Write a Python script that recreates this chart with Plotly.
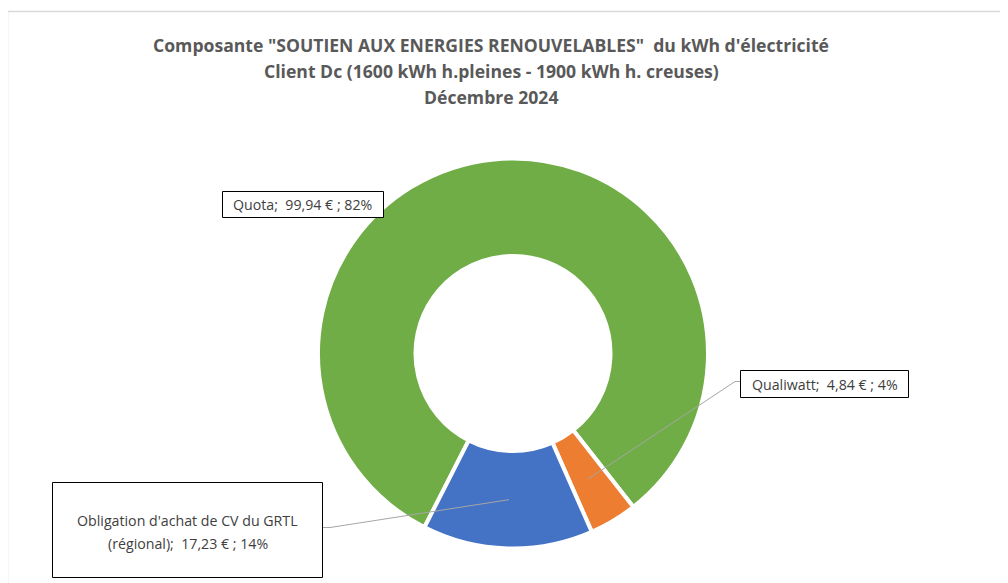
import math
import plotly.graph_objects as go

# ---- data ----
labels = ["Quota", "Qualiwatt", "Obligation d'achat de CV du GRTL (régional)"]
values = [99.94, 4.84, 17.23]
value_text = ["99,94 €", "4,84 €", "17,23 €"]
pct_text = ["82%", "4%", "14%"]
colors = ["#70AD47", "#ED7D31", "#4472C4"]
title_lines = [
    'Composante "SOUTIEN AUX ENERGIES RENOUVELABLES"  du kWh d\'électricité',
    "Client Dc (1600 kWh h.pleines - 1900 kWh h. creuses)",
    "Décembre 2024",
]

W, H = 1008, 583
OX, OY = 8, 8          # page body margin
CX, CY, R = 513, 353.5, 195
HOLE = 0.5
ROT = 207
FONT = "Open Sans, Lato, sans-serif"


def px(x, y):
    return (x - OX) / W, 1 - (y - OY) / H


fig = go.Figure()
dx0, _ = px(CX - R, 0)
dx1, _ = px(CX + R, 0)
_, dy1 = px(0, CY - R)
_, dy0 = px(0, CY + R)
fig.add_trace(go.Pie(
    labels=labels, values=values, sort=False, direction="clockwise",
    rotation=ROT, hole=HOLE, textinfo="none", hoverinfo="label+value+percent",
    marker=dict(colors=colors, line=dict(color="white", width=4)),
    domain=dict(x=[dx0, dx1], y=[dy0, dy1]),
    showlegend=False,
))

# slice midpoints (from data)
total = sum(values)
mids = []
cum = 0
for v in values:
    ang = math.radians(ROT + 360 * (cum + v / 2) / total)
    rm = R * (1 + HOLE) / 2
    mids.append((CX + rm * math.sin(ang), CY - rm * math.cos(ang)))
    cum += v

font_lbl = dict(family=FONT, size=14.2, color="#404040")

shapes = []
annotations = []

# leader lines
leaders = [
    None,
    [(735, 381.5), (740, 381.5)],
    [(330, 527.5), (322, 527.5)],
]
for i, ld in enumerate(leaders):
    if ld is None:
        continue
    pts = [mids[i]] + ld
    for (xa, ya), (xb, yb) in zip(pts[:-1], pts[1:]):
        x0, y0 = px(xa, ya)
        x1, y1 = px(xb, yb)
        shapes.append(dict(type="line", xref="paper", yref="paper", x0=x0, y0=y0, x1=x1, y1=y1,
                           line=dict(color="#A6A6A6", width=1)))

# chart border (light gray)
bx0, by0 = px(7.5, 11.5)
bx1, by1 = px(1040, 610)
shapes.append(dict(type="rect", xref="paper", yref="paper", x0=bx0, y0=by1, x1=bx1, y1=by0,
                   line=dict(color="#D9D9D9", width=1.5), fillcolor="rgba(0,0,0,0)", layer="below"))

# label boxes: (x0, y0, x1, y1) in screen px, and text lines with their centre y
boxes = [
    ((222.5, 191.5, 383.5, 217.5), [(f"{labels[0]};  {value_text[0]} ; {pct_text[0]}", 204.5)]),
    ((740.5, 370.5, 908.5, 397.5), [(f"{labels[1]};  {value_text[1]} ; {pct_text[1]}", 384)]),
    ((52.5, 482.5, 322.5, 577.5), [("Obligation d'achat de CV du GRTL", 520.5),
                                   (f"(régional);  {value_text[2]} ; {pct_text[2]}", 543.5)]),
]
for (x0p, y0p, x1p, y1p), lines in boxes:
    ax0, ay1 = px(x0p, y0p)
    ax1, ay0 = px(x1p, y1p)
    shapes.append(dict(type="rect", xref="paper", yref="paper", x0=ax0, y0=ay0, x1=ax1, y1=ay1,
                       line=dict(color="black", width=1), fillcolor="white", layer="above"))
    for txt, ty in lines:
        x, y = px((x0p + x1p) / 2, ty)
        annotations.append(dict(
            text=txt, x=x, y=y, xref="paper", yref="paper", showarrow=False,
            xanchor="center", yanchor="middle", font=font_lbl,
        ))

title_y = [45, 71, 97]
for ln, ty in zip(title_lines, title_y):
    x, y = px(491, ty)
    annotations.append(dict(
        text=f"<b>{ln}</b>", x=x, y=y, xref="paper", yref="paper", showarrow=False,
        xanchor="center", yanchor="middle",
        font=dict(family=FONT, size=17.6, color="#595959"),
    ))

fig.update_layout(
    width=W, height=H, margin=dict(l=0, r=0, t=0, b=0),
    paper_bgcolor="white", plot_bgcolor="white",
    shapes=shapes, annotations=annotations,
)

fig.write_html("out.html")
